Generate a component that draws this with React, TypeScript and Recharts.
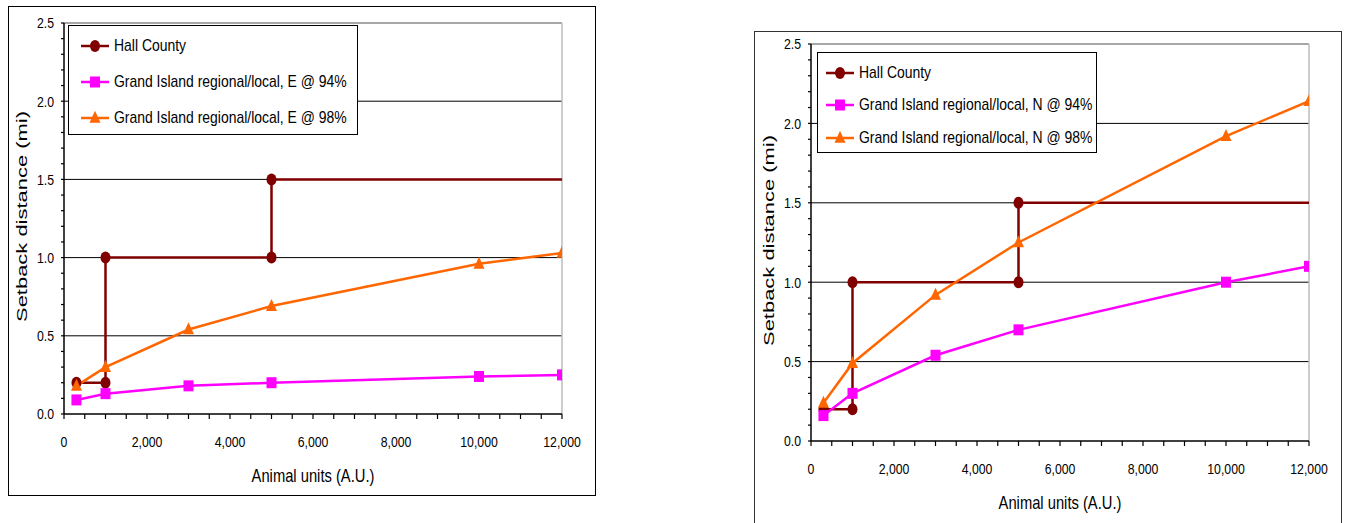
import React from 'react';
import { LineChart, Line, XAxis, YAxis, ReferenceLine, Legend } from 'recharts';

// ---------- data ----------
const xTicks = [0, 500, 1000, 1500, 2000, 2500, 3000, 3500, 4000, 4500, 5000, 5500, 6000, 6500, 7000, 7500, 8000, 8500, 9000, 9500, 10000, 10500, 11000, 11500, 12000];
const yTicks = [0, 0.1, 0.2, 0.3, 0.4, 0.5, 0.6, 0.7, 0.8, 0.9, 1.0, 1.1, 1.2, 1.3, 1.4, 1.5, 1.6, 1.7, 1.8, 1.9, 2.0, 2.1, 2.2, 2.3, 2.4, 2.5];
const gridValues = [0.5, 1.0, 1.5, 2.0];

const hallX = [300, 1000, 1000, 5000, 5000, 12000];
const hallY = [0.2, 0.2, 1.0, 1.0, 1.5, 1.5];

const giX = [300, 1000, 3000, 5000, 10000, 12000];
const eastY94 = [0.09, 0.13, 0.18, 0.2, 0.24, 0.25];
const eastY98 = [0.18, 0.3, 0.54, 0.69, 0.96, 1.03];
const northY94 = [0.16, 0.3, 0.54, 0.7, 1.0, 1.1];
const northY98 = [0.24, 0.49, 0.92, 1.25, 1.92, 2.14];

const hallName = 'Hall County';
const eastNames = ['Grand Island regional/local, E @ 94%', 'Grand Island regional/local, E @ 98%'];
const northNames = ['Grand Island regional/local, N @ 94%', 'Grand Island regional/local, N @ 98%'];
const xTitle = 'Animal units (A.U.)';
const yTitle = 'Setback distance (mi)';

// ---------- styles ----------
const MAROON = '#800000';
const MAGENTA = '#FF00FF';
const ORANGE = '#FF6600';
const ARIAL = "'Liberation Sans', Arial, sans-serif";
const SQUEEZE = 0.82;

const toPoints = (xs: number[], ys: number[]) => xs.map((x, i) => ({ x, y: ys[i] }));

const CircleMark = ({ cx, cy, rx = 5, ry = 6 }: any) => <ellipse cx={cx} cy={cy} rx={rx} ry={ry} fill={MAROON} />;
const SquareMark = ({ cx, cy, w = 10, h = 11 }: any) => <rect x={cx - w / 2} y={cy - h / 2} width={w} height={h} fill={MAGENTA} />;
const TriMark = ({ cx, cy, w = 11, h = 12 }: any) => (
  <polygon points={`${cx},${cy - h * 0.6} ${cx + w / 2},${cy + h * 0.4} ${cx - w / 2},${cy + h * 0.4}`} fill={ORANGE} />
);

const hallDot = (n: number) => (p: any) =>
  p.index < n - 1 ? <CircleMark key={`h${p.index}`} cx={p.cx} cy={p.cy} /> : <g key={`h${p.index}`} />;
const squareDot = (p: any) => <SquareMark key={`s${p.index}`} cx={p.cx} cy={p.cy} />;
const triDot = (p: any) => <TriMark key={`t${p.index}`} cx={p.cx} cy={p.cy} />;

const fmtY = (v: number) => (Math.round(v * 10) % 5 === 0 ? v.toFixed(1) : '');
const fmtX = (v: number) => (v % 2000 === 0 ? v.toLocaleString('en-US') : '');

const NarrowText = ({ x, y, anchor, dy, size, children }: any) => (
  <text
    transform={`translate(${x},${y}) scale(${SQUEEZE},1)`}
    x={0}
    y={0}
    dy={dy}
    textAnchor={anchor}
    fontFamily={ARIAL}
    fontSize={size}
    fill="#000"
  >
    {children}
  </text>
);

const XTick = (p: any) => {
  const s = fmtX(p.payload.value);
  if (!s) return <g />;
  return (
    <NarrowText x={p.x} y={p.y} anchor="middle" dy="0.71em" size={15}>
      {s}
    </NarrowText>
  );
};
const YTick = (p: any) => {
  const s = fmtY(p.payload.value);
  if (!s) return <g />;
  return (
    <NarrowText x={p.x} y={p.y} anchor="end" dy="0.355em" size={15}>
      {s}
    </NarrowText>
  );
};

type LegendCfg = { w: number; h: number; rows: number[]; lineLeft: number; textLeft: number };

const LegendBox = ({ names, cfg }: { names: string[]; cfg: LegendCfg }) => {
  const colors = [MAROON, MAGENTA, ORANGE];
  return (
    <div
      style={{
        width: cfg.w,
        height: cfg.h,
        boxSizing: 'border-box',
        border: '1.5px solid #000',
        background: '#fff',
        position: 'relative',
      }}
    >
      {names.map((n, i) => (
        <div key={n} style={{ position: 'absolute', left: 0, top: cfg.rows[i] - 10, height: 20, width: cfg.w }}>
          <svg width={30} height={20} style={{ position: 'absolute', left: cfg.lineLeft, top: 0 }}>
            <line x1={0} y1={10} x2={28} y2={10} stroke={colors[i]} strokeWidth={2.5} />
            {i === 0 && <CircleMark cx={14} cy={10} />}
            {i === 1 && <SquareMark cx={14} cy={10} />}
            {i === 2 && <TriMark cx={14} cy={10} />}
          </svg>
          <span
            style={{
              position: 'absolute',
              left: cfg.textLeft,
              top: 0,
              lineHeight: '20px',
              fontFamily: ARIAL,
              fontSize: 17,
              color: '#000',
              whiteSpace: 'nowrap',
              transform: `scaleX(${SQUEEZE})`,
              transformOrigin: 'left center',
            }}
          >
            {n}
          </span>
        </div>
      ))}
    </div>
  );
};

type PanelProps = {
  left: number;
  width: number;
  height: number;
  margin: { top: number; right: number; bottom: number; left: number };
  y94: number[];
  y98: number[];
  names: string[];
  legendPos: { left: number; top: number };
  legendCfg: LegendCfg;
};

const Panel = ({ left, width, height, margin, y94, y98, names, legendPos, legendCfg }: PanelProps) => {
  const hall = toPoints(hallX, hallY);
  const s94 = toPoints(giX, y94);
  const s98 = toPoints(giX, y98);
  const allNames = [hallName, ...names];
  return (
    <div style={{ position: 'absolute', left, top: 0 }}>
      <LineChart width={width} height={height} margin={margin}>
        <XAxis
          xAxisId={0}
          type="number"
          dataKey="x"
          domain={[0, 12000]}
          ticks={xTicks}
          interval={0}
          height={30}
          tickSize={5}
          tickMargin={17}
          axisLine={{ stroke: '#000', strokeWidth: 1.5 }}
          tickLine={{ stroke: '#000', strokeWidth: 1.2 }}
          tick={XTick}
          allowDataOverflow
          label={(lp: any) => {
            const vb = lp.viewBox || {};
            return (
              <NarrowText x={vb.x + vb.width / 2} y={vb.y + 62} anchor="middle" dy="0.35em" size={18}>
                {xTitle}
              </NarrowText>
            );
          }}
        />
        <YAxis
          yAxisId={0}
          type="number"
          domain={[0, 2.5]}
          ticks={yTicks}
          interval={0}
          width={60}
          tickSize={3}
          tickMargin={7}
          axisLine={{ stroke: '#000', strokeWidth: 1.5 }}
          tickLine={{ stroke: '#000', strokeWidth: 1.2 }}
          tick={YTick}
          allowDataOverflow
          label={(lp: any) => {
            const vb = lp.viewBox || {};
            const cx = vb.x + 18;
            const cy = vb.y + vb.height / 2 - 2;
            return (
              <text
                x={cx}
                y={cy}
                dy="0.35em"
                textAnchor="middle"
                transform={`rotate(-90 ${cx} ${cy})`}
                fontFamily={ARIAL}
                fontSize={15}
                textLength={211}
                lengthAdjust="spacingAndGlyphs"
                fill="#000"
              >
                {yTitle}
              </text>
            );
          }}
        />
        {gridValues.map((g) => (
          <ReferenceLine key={`g${g}`} y={g} stroke="#000" strokeWidth={1} />
        ))}
        <ReferenceLine y={2.5} stroke="#8a8a8a" strokeWidth={1.5} />
        <ReferenceLine x={12000} stroke="#bdbdbd" strokeWidth={1.5} />
        <Legend
          layout="horizontal"
          verticalAlign="middle"
          align="center"
          wrapperStyle={{ left: legendPos.left, top: legendPos.top, width: legendCfg.w }}
          content={() => <LegendBox names={allNames} cfg={legendCfg} />}
        />
        <Line
          data={hall}
          dataKey="y"
          name={hallName}
          stroke={MAROON}
          strokeWidth={2.5}
          dot={hallDot(hall.length)}
          activeDot={false}
          isAnimationActive={false}
          legendType="none"
        />
        <Line
          data={s94}
          dataKey="y"
          name={names[0]}
          stroke={MAGENTA}
          strokeWidth={2.5}
          dot={squareDot}
          activeDot={false}
          isAnimationActive={false}
          legendType="none"
        />
        <Line
          data={s98}
          dataKey="y"
          name={names[1]}
          stroke={ORANGE}
          strokeWidth={2.5}
          dot={triDot}
          activeDot={false}
          isAnimationActive={false}
          legendType="none"
        />
      </LineChart>
    </div>
  );
};

export default function App() {
  return (
    <div style={{ position: 'absolute', left: 0, top: 0, width: 1350, height: 523, overflow: 'hidden', background: '#fff' }}>
      <div
        style={{
          position: 'absolute',
          left: 8,
          top: 6,
          width: 588,
          height: 490,
          boxSizing: 'border-box',
          border: '1.5px solid #000',
        }}
      />
      <div
        style={{
          position: 'absolute',
          left: 754,
          top: 31,
          width: 588,
          height: 520,
          boxSizing: 'border-box',
          border: '1.5px solid #333',
        }}
      />
      <Panel
        left={0}
        width={600}
        height={500}
        margin={{ top: 23, right: 38, bottom: 56, left: 4 }}
        y94={eastY94}
        y98={eastY98}
        names={eastNames}
        legendPos={{ left: 68, top: 25 }}
        legendCfg={{ w: 290, h: 110, rows: [20, 56, 92], lineLeft: 12, textLeft: 45 }}
      />
      <Panel
        left={750}
        width={600}
        height={523}
        margin={{ top: 44, right: 41, bottom: 52, left: 1 }}
        y94={northY94}
        y98={northY98}
        names={northNames}
        legendPos={{ left: 67, top: 52 }}
        legendCfg={{ w: 280, h: 101, rows: [20, 52, 85], lineLeft: 8, textLeft: 41 }}
      />
    </div>
  );
}
